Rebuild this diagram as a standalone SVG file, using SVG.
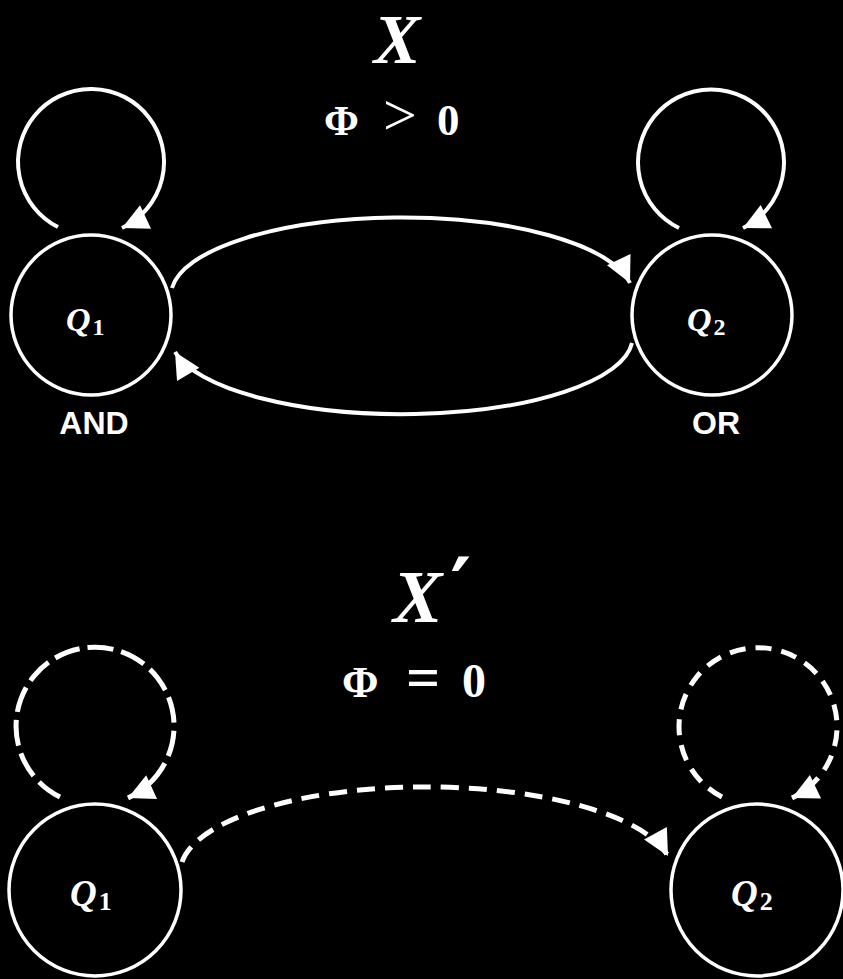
<svg xmlns="http://www.w3.org/2000/svg" width="843" height="979" viewBox="0 0 843 979">
<style>
.node{fill:none;stroke:#fff;stroke-width:3.5}
.edge{fill:none;stroke:#fff;stroke-width:4}
.dash{fill:none;stroke:#fff;stroke-width:5}
.q{font-family:"Liberation Serif",serif;font-style:italic;font-weight:bold;fill:#fff}
.sub{font-style:normal;font-weight:bold}
.title{font-family:"Liberation Serif",serif;font-style:italic;font-weight:bold;fill:#fff}
.math{font-family:"Liberation Serif",serif;font-weight:bold;fill:#fff}
.lbl{font-family:"Liberation Sans",Arial,sans-serif;font-weight:bold;fill:#fff;text-anchor:middle}
</style>
<defs>
<marker id="arr" viewBox="0 0 10 10" refX="10" refY="5" markerUnits="userSpaceOnUse" markerWidth="30" markerHeight="26" orient="auto">
<path d="M0,0 L10,5 L0,10 z" fill="#fff"/>
</marker>
</defs>
<rect width="843" height="979" fill="#000"/>

<g id="title-top">
<text class="title" x="397" y="63" font-size="70" text-anchor="middle">X</text>
<text class="math" y="135" font-size="42"><tspan x="324">Φ</tspan><tspan x="383" font-weight="normal" font-size="60">&gt;</tspan><tspan x="437" font-size="45">0</tspan></text>
</g>

<g id="title-bottom">
<text class="title" x="393" y="622" font-size="74">X<tspan font-style="normal" font-weight="bold" font-family="DejaVu Sans, sans-serif" font-size="80" dx="8" dy="-7">′</tspan></text>
<text class="math" y="697" font-size="44"><tspan x="342">Φ</tspan><tspan x="406" font-size="60">=</tspan><tspan x="462" font-size="48">0</tspan></text>
</g>

<g id="connectors">
<path class="edge" d="M58,227 A73,73 0 1 1 122,228" marker-end="url(#arr)"/>
<path class="edge" d="M679,228 A73,73 0 1 1 743,228" marker-end="url(#arr)"/>
<path class="edge" d="M172,288 A231,78 0 0 1 630,283" marker-end="url(#arr)"/>
<path class="edge" d="M632,343 A231,77 0 0 1 175,352" marker-end="url(#arr)"/>
<path class="dash" stroke-dasharray="26 8" d="M60,797 A79,79 0 1 1 128,798" marker-end="url(#arr)"/>
<path class="dash" stroke-dasharray="16 10" d="M722,797 A79,79 0 1 1 792,798" marker-end="url(#arr)"/>
<path class="dash" stroke-dasharray="18 10" d="M182,862 A246,85 0 0 1 668,856" marker-end="url(#arr)"/>
</g>

<g id="node-q1-top">
<circle class="node" cx="91" cy="315" r="80"/>
<text class="q" x="66" y="331" font-size="34">Q<tspan class="sub" font-size="24" dx="2" dy="4">1</tspan></text>
<text class="lbl" x="94" y="434" font-size="32">AND</text>
</g>

<g id="node-q2-top">
<circle class="node" cx="712" cy="315" r="80"/>
<text class="q" x="687" y="331" font-size="34">Q<tspan class="sub" font-size="24" dx="2" dy="4">2</tspan></text>
<text class="lbl" x="716" y="434" font-size="32">OR</text>
</g>

<g id="node-q1-bottom">
<circle class="node" cx="95" cy="890" r="86"/>
<text class="q" x="70" y="906" font-size="37">Q<tspan class="sub" font-size="26" dx="2" dy="4">1</tspan></text>
</g>

<g id="node-q2-bottom">
<circle class="node" cx="757" cy="890" r="86"/>
<text class="q" x="731" y="906" font-size="37">Q<tspan class="sub" font-size="26" dx="2" dy="4">2</tspan></text>
</g>
</svg>
